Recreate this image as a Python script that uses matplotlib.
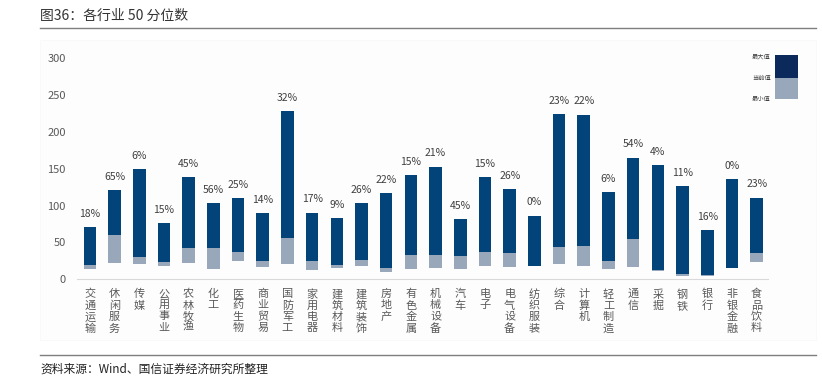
import matplotlib.pyplot as plt
from matplotlib.patches import Rectangle
from matplotlib.lines import Line2D

plt.rcParams['font.family'] = ['Noto Sans CJK SC', 'DejaVu Sans']

# 行业
industries = ["交通运输", "休闲服务", "传媒", "公用事业", "农林牧渔", "化工", "医药生物",
              "商业贸易", "国防军工", "家用电器", "建筑材料", "建筑装饰", "房地产", "有色金属",
              "机械设备", "汽车", "电子", "电气设备", "纺织服装", "综合", "计算机",
              "轻工制造", "通信", "采掘", "钢铁", "银行", "非银金融", "食品饮料"]
# 最大值 / 当前值 / 最小值
max_vals = [70.6, 120.8, 149.3, 76.5, 138.9, 103.0, 110.4, 90.0, 228.5, 90.5, 82.8, 103.2,
            117.2, 141.2, 153.0, 81.9, 138.5, 122.6, 86.4, 224.4, 223.5, 118.6, 165.2,
            155.2, 126.2, 67.0, 135.7, 110.9]
cur_vals = [19.0, 60.0, 30.3, 23.5, 43.0, 43.0, 36.7, 24.4, 55.7, 24.4, 19.9, 25.8, 15.8,
            32.6, 33.5, 31.7, 36.7, 35.3, 18.6, 44.3, 45.2, 24.4, 54.3, 13.1, 7.7, 5.9,
            15.8, 35.3]
min_vals = [14.0, 22.6, 21.3, 18.6, 22.6, 13.6, 25.3, 17.2, 20.8, 13.1, 14.9, 17.6, 9.5,
            14.5, 15.0, 13.6, 18.1, 16.3, 17.6, 20.8, 18.1, 14.5, 16.7, 11.8, 5.0, 5.0,
            15.8, 24.0]
# 分位数
pct = [18, 65, 6, 15, 45, 56, 25, 14, 32, 17, 9, 26, 22, 15, 21, 45, 15, 26, 0, 23, 22,
       6, 54, 4, 11, 16, 0, 23]

dark = "#02437A"
light = "#98A8BA"
W, H = 822, 385

fig = plt.figure(figsize=(W / 100, H / 100), dpi=100)

# 标题、分隔线、资料来源
fig.text(40 / W, 1 - 16 / H, "图36：各行业 50 分位数", fontsize=10, color="#333333",
         va="center", ha="left")
fig.add_artist(Line2D([40 / W, 816 / W], [1 - 27.5 / H] * 2, color="#7F7F7F", lw=1))
fig.add_artist(Line2D([40 / W, 816 / W], [1 - 355 / H] * 2, color="#7F7F7F", lw=1))
fig.text(40 / W, 1 - 369 / H, "资料来源：Wind、国信证券经济研究所整理", fontsize=8.5,
         color="#222222", va="center", ha="left")
fig.add_artist(Rectangle((40 / W, 1 - 340 / H), 776 / W, 300 / H, transform=fig.transFigure,
                         facecolor="#FDFDFD", edgecolor="#F9F9F9", lw=0.6, zorder=-1))

ax = fig.add_axes([77 / W, 1 - 279.3 / H, (768 - 77) / W, 221 / H])
ax.patch.set_alpha(0)
x = list(range(len(industries)))
low_h = [c - m for c, m in zip(cur_vals, min_vals)]
high_h = [mx - c for mx, c in zip(max_vals, cur_vals)]
ax.bar(x, low_h, bottom=min_vals, width=0.51, color=light)
ax.bar(x, high_h, bottom=cur_vals, width=0.51, color=dark)

for i, p in enumerate(pct):
    ax.annotate(f"{p}%", (i, max_vals[i]), xytext=(0, 6), textcoords="offset points",
                ha="center", va="bottom", fontsize=7.5, color="#404040")

ax.set_xlim(-0.52, len(industries) - 0.54)
ax.set_ylim(0, 300)
ax.set_yticks(range(0, 301, 50))
ax.set_xticks(x)
ax.set_xticklabels(["\n".join(s) for s in industries], fontsize=8, color="#595959",
                   linespacing=1.15, va="top")
ax.tick_params(axis="both", length=0, colors="#595959")
ax.tick_params(axis="y", labelsize=8, pad=8)
ax.tick_params(axis="x", pad=7)
for s in ["left", "right", "top"]:
    ax.spines[s].set_visible(False)
ax.spines["bottom"].set_color("#D9D9D9")

# 图例
fig.add_artist(Rectangle((775 / W, 1 - 77.7 / H), 22.7 / W, 22.7 / H,
                         transform=fig.transFigure, facecolor="#0B2A5B", edgecolor="none"))
fig.add_artist(Rectangle((775 / W, 1 - 99.3 / H), 22.7 / W, 21.6 / H,
                         transform=fig.transFigure, facecolor=light, edgecolor="none"))
for lbl, yy in [("最大值", 57), ("当前值", 77.5), ("最小值", 99)]:
    fig.text(771 / W, 1 - yy / H, lbl, fontsize=4.5, color="#404040", ha="right", va="center")

fig.savefig("out.png", dpi=100)
